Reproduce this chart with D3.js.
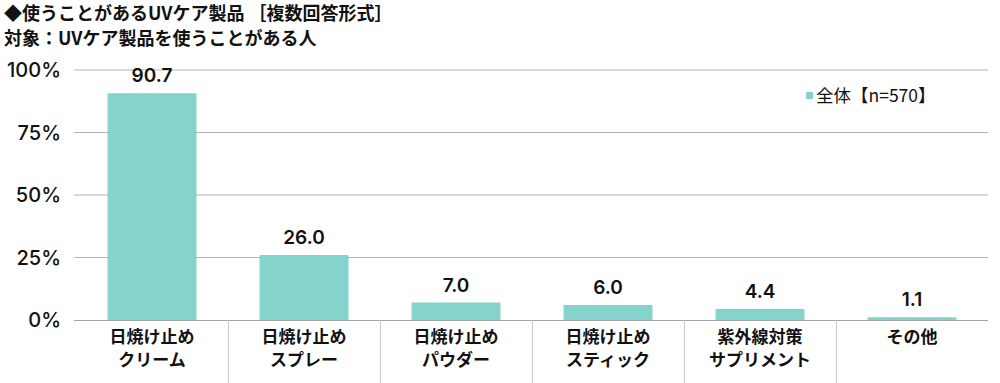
<!DOCTYPE html>
<html><head><meta charset="utf-8">
<script src="https://cdn.jsdelivr.net/npm/d3@7"></script>
<style>body{margin:0;background:#fff}svg{display:block}</style>
</head><body>
<script>
const categories = [["日焼け止め","クリーム"],["日焼け止め","スプレー"],["日焼け止め","パウダー"],["日焼け止め","スティック"],["紫外線対策","サプリメント"],["その他"]];
const values = [90.7, 26.0, 7.0, 6.0, 4.4, 1.1];
const ticks = [0, 25, 50, 75, 100];
const titleLines = ["◆使うことがあるUVケア製品 ［複数回答形式］", "対象：UVケア製品を使うことがある人"];
const legendLabel = "全体【n=570】";

const W = 1000, H = 383;
const svg = d3.select("body").append("svg").attr("width", W).attr("height", H);
const jp = "'Noto Sans CJK JP', sans-serif";
const num = "Inter, 'Noto Sans', sans-serif";
const color = "#85d4cb";

const x = d3.scaleBand().domain(d3.range(categories.length)).range([76, 988]).paddingInner(0.415).paddingOuter(0.2075);
const y = d3.scaleLinear().domain([0, 100]).range([320, 70]);

// gridlines
svg.append("g").selectAll("line").data(ticks.filter(t => t > 0)).join("line")
  .attr("x1", 74).attr("x2", 988).attr("y1", d => y(d)).attr("y2", d => y(d))
  .attr("stroke", "#b3b3b3").attr("stroke-width", 1);

// y tick labels
svg.append("g").selectAll("text").data(ticks).join("text")
  .attr("x", 61).attr("y", d => y(d)).attr("dy", "0.35em").attr("text-anchor", "end")
  .attr("font-family", num).attr("font-size", 20).attr("font-weight", 500).attr("fill", "#111")
  .text(d => d + "%");

// bars
svg.append("g").selectAll("rect").data(values).join("rect")
  .attr("x", (d, i) => x(i)).attr("width", x.bandwidth())
  .attr("y", d => y(d)).attr("height", d => y(0) - y(d)).attr("fill", color);

// value labels
svg.append("g").selectAll("text").data(values).join("text")
  .attr("x", (d, i) => x(i) + x.bandwidth() / 2).attr("y", d => y(d) - 11)
  .attr("text-anchor", "middle").attr("font-family", num).attr("font-size", 19).attr("font-weight", 600).attr("fill", "#111")
  .text(d => d.toFixed(1));

// baseline
svg.append("line").attr("x1", 74).attr("x2", 988).attr("y1", y(0) + 0.5).attr("y2", y(0) + 0.5)
  .attr("stroke", "#a6a6a6").attr("stroke-width", 1);

// category dividers
const step = x.step();
const bounds = d3.range(1, categories.length).map(i => x(i) - x.paddingInner() * step / 2);
svg.append("g").selectAll("line").data(bounds).join("line")
  .attr("x1", d => Math.round(d) + 0.5).attr("x2", d => Math.round(d) + 0.5).attr("y1", y(0)).attr("y2", H)
  .attr("stroke", "#c8c8c8").attr("stroke-width", 1);

// category labels
const cg = svg.append("g").selectAll("text").data(categories).join("text")
  .attr("x", (d, i) => x(i) + x.bandwidth() / 2).attr("text-anchor", "middle")
  .attr("font-family", jp).attr("font-size", 17).attr("font-weight", 700).attr("fill", "#111");
cg.selectAll("tspan").data(d => d).join("tspan")
  .attr("x", function () { return this.parentNode.getAttribute("x"); })
  .attr("y", (d, i) => 343 + i * 23).text(d => d);

// titles
svg.append("g").selectAll("text").data(titleLines).join("text")
  .attr("x", 4).attr("y", (d, i) => 20 + i * 25)
  .attr("font-family", jp).attr("font-size", 18).attr("font-weight", 700).attr("fill", "#111")
  .text(d => d);

// legend
svg.append("rect").attr("x", 806).attr("y", 92).attr("width", 7).attr("height", 7).attr("fill", color);
svg.append("text").attr("x", 816).attr("y", 96).attr("dy", "0.35em")
  .attr("font-family", jp).attr("font-size", 17.5).attr("fill", "#111").text(legendLabel);
</script>
</body></html>
